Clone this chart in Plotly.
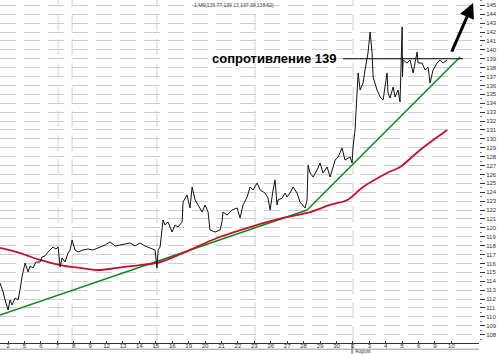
import plotly.graph_objects as go

# ---- data (x = trading-day index, July 2 = 1) ----
price_t = [0.51,0.70,0.82,0.94,1.00,1.12,1.24,1.43,1.61,1.73,1.85,2.04,2.22,2.34,2.52,2.70,2.95,3.07,3.25,3.38,
           3.56,3.74,3.92,4.05,4.17,4.29,4.47,4.65,4.78,4.90,5.08,5.26,5.57,5.87,6.18,6.60,6.91,7.21,7.52,7.82,
           8.13,8.43,8.73,9.04,9.34,9.65,9.95,10.07,10.14,10.26,10.44,10.56,10.74,10.99,11.17,11.35,11.60,11.66,11.90,12.08,
           12.21,12.39,12.57,12.82,13.00,13.18,13.30,13.61,13.91,14.03,14.09,14.34,14.64,14.95,15.13,15.31,15.56,15.74,15.92,16.17,
           16.35,16.65,16.83,16.96,17.14,17.26,17.38,17.44,17.69,17.87,17.99,18.17,18.36,18.60,18.78,19.09,19.21,19.27,19.39,19.58,
           19.82,20.00,20.18,20.43,20.61,20.92,21.10,21.34,21.52,21.83,21.95,22.01,22.13,22.25,22.32,22.44,22.62,22.74,22.92,23.05,
           23.17,23.23,23.47,23.66,23.84,24.08,24.14,24.26,24.45,24.57,24.75,24.87,25.00,25.02,25.06,25.30,25.48,25.67,25.91,25.97,
           26.21,26.40,26.58,26.70,26.88,27.13,27.31,27.49,27.74]
price_v = [113.80,112.79,111.89,111.11,110.77,111.89,111.33,112.12,111.89,113.02,114.48,116.05,115.04,115.71,115.49,116.16,116.16,116.72,116.84,117.17,
           117.51,117.85,117.62,117.85,115.60,116.61,116.16,117.17,117.51,118.63,117.51,117.29,117.51,117.62,117.51,117.85,118.07,118.41,117.96,118.07,
           118.18,118.30,117.96,118.30,117.96,117.74,117.51,115.49,117.51,117.85,120.88,120.32,120.66,119.53,120.32,120.09,120.66,122.90,123.69,122.23,
           124.59,123.13,122.57,121.78,122.57,121.78,119.76,119.53,119.76,120.66,121.78,121.44,122.00,122.23,121.11,122.57,123.47,124.59,124.25,125.04,
           124.25,123.91,123.35,122.00,124.25,125.38,122.57,123.13,123.35,123.91,123.47,123.91,124.59,123.91,122.90,122.23,123.13,127.06,126.16,125.71,
           126.50,127.29,126.16,126.84,125.71,127.62,127.96,128.97,127.62,127.96,127.29,129.08,130.99,135.82,137.40,135.49,136.27,137.73,139.64,142.00,
           139.64,136.95,135.49,134.70,134.36,137.40,135.15,134.59,135.82,134.70,135.49,134.14,142.57,136.95,138.86,138.52,138.86,137.40,139.76,138.52,
           138.52,137.73,138.07,136.27,137.73,138.52,138.86,138.52,138.86]

ma_t = [0.51,1.73,2.95,4.17,5.38,6.42,7.64,9.04,10.07,11.66,13.73,15.74,17.75,19.21,20.61,21.65,22.62,24.08,24.87,26.09,27.74]
ma_v = [117.74,117.17,116.39,115.82,115.49,115.26,115.49,115.82,116.05,117.17,118.86,120.09,121.11,121.67,122.57,123.13,124.59,126.16,126.84,128.75,130.99]

trend1_t = [0.51, 19.21]
trend1_v = [110.21, 122.00]
trend2_t = [19.21, 28.53]
trend2_v = [122.00, 139.20]

res_t = [21.40, 28.71]
res_level = 139

arrow_from = (27.98, 139.64)
arrow_to = (29.32, 145.26)

day_ticks = list(range(1, 29))
day_labels = ["2","5","6","7","8","9","12","13","14","15","16","19","20","21","22","23","26","27","28","29","30",
              "2","3","4","5","6","9","10"]
y_ticks = list(range(108, 146))
vgrid_t = [4.05, 4.90, 10.07, 16.04, 22.01]

fig = go.Figure()
fig.add_trace(go.Scatter(x=trend1_t, y=trend1_v, mode="lines", line=dict(color="#0a8a1a", width=1.5)))
fig.add_trace(go.Scatter(x=trend2_t, y=trend2_v, mode="lines", line=dict(color="#0a8a1a", width=1.5)))
fig.add_trace(go.Scatter(x=ma_t, y=ma_v, mode="lines", line=dict(color="#c8102e", width=1.8, shape="spline")))
fig.add_trace(go.Scatter(x=price_t, y=price_v, mode="lines", line=dict(color="#111111", width=1)))
fig.add_trace(go.Scatter(x=res_t, y=[res_level, res_level], mode="lines", line=dict(color="#000000", width=1.2)))

for vx in vgrid_t:
    fig.add_shape(type="line", xref="x", yref="paper", x0=vx, x1=vx, y0=0, y1=1,
                  line=dict(color="#cfcfcf", width=1, dash="16px,8px"), layer="below")

# August separator and lower strip line
fig.add_shape(type="line", xref="x", yref="paper", x0=21.95, x1=21.95, y0=-0.035, y1=0,
              line=dict(color="#444", width=1))
fig.add_shape(type="line", xref="paper", yref="paper", x0=0, x1=1, y0=-0.018, y1=-0.018,
              line=dict(color="#999", width=1))

fig.add_annotation(x=res_t[0] - 0.3, y=res_level, xref="x", yref="y", text="<b>сопротивление 139</b>",
                   showarrow=False, xanchor="right", yanchor="middle",
                   font=dict(family="Liberation Sans, Arial", size=13, color="#000"))
fig.add_annotation(x=arrow_to[0], y=arrow_to[1], ax=arrow_from[0], ay=arrow_from[1],
                   xref="x", yref="y", axref="x", ayref="y", text="", showarrow=True,
                   arrowhead=2, arrowsize=1, arrowwidth=3, arrowcolor="#000")
fig.add_annotation(x=22.05, y=-0.0235, xref="x", yref="paper", text="August", showarrow=False,
                   xanchor="left", yanchor="middle", borderpad=0,
                   font=dict(family="Liberation Sans, Arial", size=5, color="#333"))
fig.add_annotation(x=192/479, y=1, xref="paper", yref="paper", text="1,M6(139.77,139.13,137.39,138.62)",
                   showarrow=False, xanchor="left", yanchor="top",
                   font=dict(family="Liberation Sans, Arial", size=5, color="#444"))

fig.update_layout(
    width=500, height=354, margin=dict(l=0, r=21, t=0, b=11),
    paper_bgcolor="white", plot_bgcolor="white", showlegend=False,
    xaxis=dict(range=[0.51, 29.68], tickmode="array", tickvals=day_ticks, ticktext=day_labels,
               tickfont=dict(family="Liberation Sans, Arial", size=6, color="#333"),
               ticks="inside", ticklen=2, tickcolor="#333", ticklabelstandoff=-3,
               showgrid=False, zeroline=False, showline=True, linecolor="#333", linewidth=1),
    yaxis=dict(range=[107.06, 145.6], side="right", tickmode="array", tickvals=y_ticks,
               tickfont=dict(family="Liberation Sans, Arial", size=6, color="#333"),
               ticks="outside", ticklen=5, tickcolor="#333",
               minor=dict(dtick=0.5, ticks="outside", ticklen=2, tickcolor="#777", showgrid=False),
               showgrid=True, gridcolor="#cdcdcd", griddash="16px,8px", gridwidth=1,
               zeroline=False, showline=False),
)

fig.write_html("out.html")
